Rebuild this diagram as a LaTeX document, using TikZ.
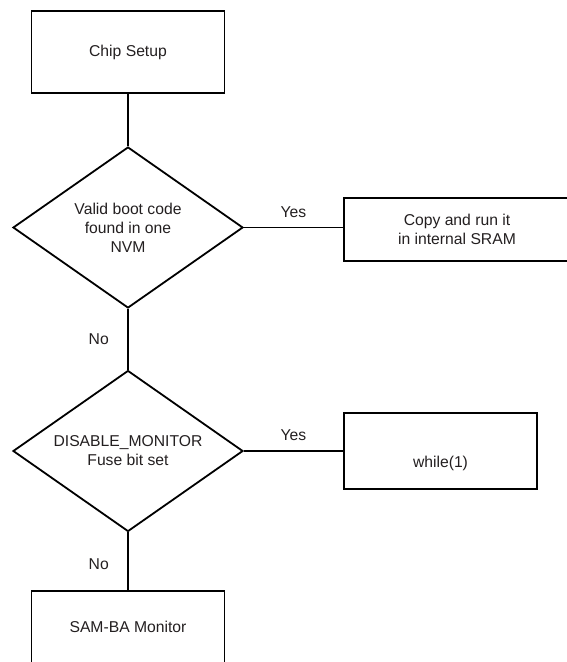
\documentclass[tikz,border=0pt]{standalone}
\usepackage{fontspec}
\setmainfont{Liberation Sans}
\usetikzlibrary{shapes.geometric}

\definecolor{inkgray}{HTML}{231F20}

\begin{document}
\begin{tikzpicture}[x=1pt, y=-1pt,
  every node/.style={font=\fontsize{15.7}{19}\selectfont, text=inkgray},
  stepbox/.style={draw=black, line width=1.8pt, rectangle, minimum width=193pt, align=center},
  ask/.style={draw=black, line width=1.8pt, diamond, aspect=1.43, inner sep=0pt, minimum width=230pt, minimum height=161pt, align=center},
  link/.style={black, line width=1.8pt}]

\useasboundingbox (0,0) rectangle (566,662);

\node (setup) at (128, 52) [stepbox, minimum height=82pt] {Chip Setup};

\node (valid) at (128, 227.5) [ask] {Valid boot code\\found in one\\NVM};

\node (copy) at (457, 229.5) [stepbox, minimum width=226pt, minimum height=63pt] {Copy and run it\\in internal SRAM};

\node (disable) at (128, 451) [ask] {DISABLE\_MONITOR\\Fuse bit set};

\node (loop) at (440.5, 451) [stepbox, minimum height=76pt, text height=35.5pt, text depth=3.3pt] {while(1)};

\node (monitor) at (128, 627) [stepbox, minimum height=72pt] {SAM-BA Monitor};

\draw [link] (setup) -- (valid);
\draw [link] (valid.east) -- node [above=6pt] {Yes} (copy.west |- valid.east);
\draw [link] (valid) -- node [left=15pt] {No} (disable);
\draw [link] (disable) -- node [above=6pt] {Yes} (loop);
\draw [link] (disable) -- node [left=15pt, pos=0.55] {No} (monitor);

\end{tikzpicture}
\end{document}
